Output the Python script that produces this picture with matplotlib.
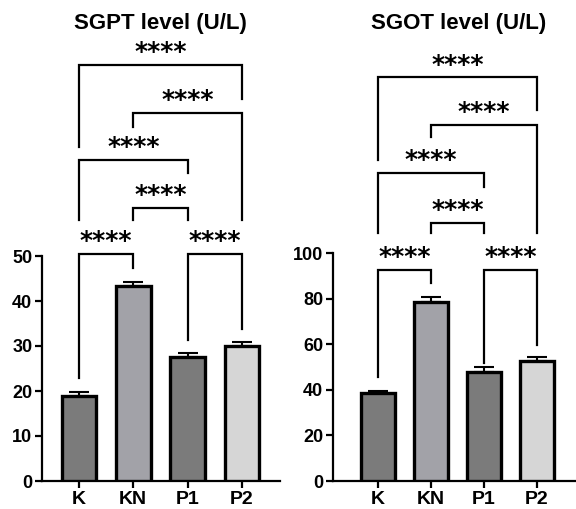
import numpy as np
import matplotlib
matplotlib.use('Agg')
from matplotlib import pyplot as plt

groups = ['K', 'KN', 'P1', 'P2']
bar_colors = ['#7b7b7b', '#a2a2a8', '#7b7b7b', '#d6d6d6']

sgpt_mean = [19.0, 43.4, 27.6, 30.0]
sgpt_err = [0.8, 0.9, 0.8, 0.9]
sgot_mean = [38.6, 78.6, 47.9, 52.8]
sgot_err = [0.8, 2.0, 2.0, 1.5]

# (left group, right group, bracket top, left leg end, right leg end)
sgpt_pairs = [
    (0, 1, 50.4, 22.9, 47.3),
    (2, 3, 50.4, 31.3, 33.8),
    (1, 2, 60.7, 58.0, 58.0),
    (0, 2, 71.3, 58.0, 68.4),
    (1, 3, 81.8, 78.7, 58.0),
    (0, 3, 92.4, 74.2, 84.9),
]
sgot_pairs = [
    (0, 1, 92.5, 45.7, 86.8),
    (2, 3, 92.5, 51.8, 59.6),
    (1, 2, 113.3, 108.6, 108.6),
    (0, 2, 135.0, 108.6, 129.0),
    (1, 3, 156.0, 150.7, 108.6),
    (0, 3, 177.0, 140.8, 162.7),
]

W, H = 576, 509
fig = plt.figure(figsize=(W / 100, H / 100), dpi=100)
plt.rcParams['font.family'] = ['Liberation Sans', 'DejaVu Sans']


def panel(rect, means, errs, pairs, ytop, ymax, yticks, xlim, title, title_x):
    ax = fig.add_axes(rect)
    x = np.arange(len(groups))
    ax.bar(x, means, width=0.64, color=bar_colors, edgecolor='black',
           linewidth=2.4, zorder=3)
    ax.errorbar(x, means, yerr=[[0] * len(errs), errs], fmt='none',
                ecolor='black', elinewidth=1.5, capsize=7, capthick=1.5,
                zorder=2)
    ax.set_xlim(*xlim)
    ax.set_ylim(0, ymax)
    ax.spines['top'].set_visible(False)
    ax.spines['right'].set_visible(False)
    ax.spines['left'].set_bounds(0, ytop)
    for s in ['left', 'bottom']:
        ax.spines[s].set_linewidth(1.6)
    ax.set_yticks(yticks)
    ax.set_xticks(x)
    ax.set_xticklabels(groups)
    ax.tick_params(width=1.6, length=5, pad=2)
    ax.tick_params(axis='y', labelsize=13)
    ax.tick_params(axis='x', labelsize=14)
    for lab in ax.get_xticklabels() + ax.get_yticklabels():
        lab.set_fontweight('bold')
    for a, b, top, ya, yb in pairs:
        ax.plot([a, a, b, b], [ya, top, top, yb], color='black', lw=1.6,
                clip_on=False, solid_joinstyle='miter')
        ax.text((a + b) / 2, top + ymax * 0.002, '****', ha='center',
                va='bottom', fontsize=18, fontweight='bold',
                family='DejaVu Sans')
    fig.text(title_x / W, 1 - 24 / H, title, ha='center', va='center',
             fontsize=16, fontweight='bold')
    return ax


bottom = (H - 481) / H
height = (481 - 30) / H
panel([42 / W, bottom, (280 - 42) / W, height], sgpt_mean, sgpt_err,
      sgpt_pairs, 50, 451 / 4.5, [0, 10, 20, 30, 40, 50], (-0.68, 3.7),
      'SGPT level (U/L)', 160)
panel([333 / W, bottom, (575 - 333) / W, height], sgot_mean, sgot_err,
      sgot_pairs, 100, 451 / 2.28, [0, 20, 40, 60, 80, 100], (-0.85, 3.72),
      'SGOT level (U/L)', 459)

fig.savefig('out.png', dpi=100, facecolor='white')
